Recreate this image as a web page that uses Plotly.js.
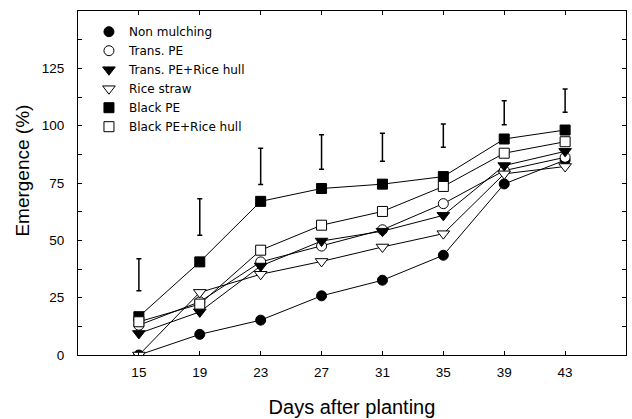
<!DOCTYPE html>
<html>
<head>
<meta charset="utf-8">
<script src="https://cdn.plot.ly/plotly-3.0.1.min.js"></script>
<style>html,body{margin:0;padding:0;background:#fff;}#chart{width:632px;height:419px;}</style>
</head>
<body>
<div id="chart"></div>
<script>
// ---- data ----
var days = [15, 19, 23, 27, 31, 35, 39, 43];
var nonMulching   = [0, 9.0, 15.2, 25.8, 32.6, 43.5, 74.6, 85.0];
var transPE       = [13.0, 23.2, 40.6, 47.5, 54.6, 66.0, 80.4, 86.2];
var transPERice   = [9.4, 18.8, 38.8, 49.7, 54.0, 60.9, 82.6, 88.8];
var riceStraw     = [0, 27.3, 35.2, 40.8, 47.1, 52.9, 79.0, 82.2];
var blackPE       = [16.7, 40.6, 67.0, 72.6, 74.5, 77.8, 94.2, 98.1];
var blackPERice   = [14.5, 22.2, 45.7, 56.6, 62.6, 73.5, 88.0, 93.0];
var barLow  = [28.0, 52.2, 74.3, 81.0, 84.5, 90.6, 100.4, 105.8];
var barHigh = [42.0, 68.1, 90.1, 96.0, 96.7, 100.7, 110.9, 116.0];
var seriesNames = ["Non mulching", "Trans. PE", "Trans. PE+Rice hull", "Rice straw", "Black PE", "Black PE+Rice hull"];
var yTickVals = [0, 25, 50, 75, 100, 125];

var seriesData = [nonMulching, transPE, transPERice, riceStraw, blackPE, blackPERice];
var symbols = ["circle", "circle", "triangle-down", "triangle-down", "square", "square"];
var fills = ["#000", "#fff", "#000", "#fff", "#000", "#fff"];
var sizes = [10, 10, 11, 11, 10, 10];

var traces = [];
// lines first (under markers)
seriesData.forEach(function (vals, i) {
  traces.push({
    x: days, y: vals, type: "scatter", mode: "lines",
    line: {color: "#000", width: 1}, showlegend: false, hoverinfo: "skip"
  });
});
// error bars (LSD bars)
var barMid = barLow.map(function (v, i) { return (v + barHigh[i]) / 2; });
var barHalf = barLow.map(function (v, i) { return (barHigh[i] - v) / 2; });
traces.push({
  x: days, y: barMid, type: "scatter", mode: "markers",
  marker: {size: 1, color: "rgba(0,0,0,0)"},
  error_y: {type: "data", array: barHalf, visible: true, color: "#000", thickness: 1.5, width: 2.5},
  showlegend: false, hoverinfo: "skip"
});
// markers with legend
seriesData.forEach(function (vals, i) {
  traces.push({
    x: days, y: vals, type: "scatter", mode: "markers", name: seriesNames[i],
    marker: {symbol: symbols[i], size: sizes[i], color: fills[i], line: {color: "#000", width: 1}}
  });
});

var layout = {
  width: 632, height: 419,
  margin: {l: 78, r: 6, t: 11, b: 64},
  paper_bgcolor: "#fff", plot_bgcolor: "#fff",
  font: {family: "Liberation Sans, Arial, sans-serif", color: "#000", size: 13},
  showlegend: true,
  legend: {
    x: 0.02, y: 0.982, xanchor: "left", yanchor: "top",
    bgcolor: "rgba(0,0,0,0)", borderwidth: 0,
    font: {family: "DejaVu Sans, sans-serif", size: 12, color: "#000"}, tracegroupgap: 0
  },
  xaxis: {
    range: [11, 47], tickvals: days, ticks: "inside", ticklen: 4, tickcolor: "#000",
    showline: true, linecolor: "#000", linewidth: 1, mirror: "allticks",
    showgrid: false, zeroline: false, ticklabelstandoff: 5,
    tickfont: {size: 13.5},
    title: {text: "Days after planting", font: {size: 20}, standoff: 20}
  },
  yaxis: {
    range: [0, 150], tickvals: yTickVals, ticks: "inside", ticklen: 4, tickcolor: "#000",
    showline: true, linecolor: "#000", linewidth: 1, mirror: "allticks",
    showgrid: false, zeroline: false, ticklabelstandoff: 10,
    tickfont: {size: 13.5},
    minor: {dtick: 12.5, tick0: 0, ticks: "inside", ticklen: 4, tickcolor: "#000", showgrid: false}
  },
  annotations: [{
    text: "Emergence (%)", xref: "paper", yref: "paper",
    x: -0.101, y: 0.535, xanchor: "center", yanchor: "middle",
    textangle: -90, showarrow: false, font: {size: 19, color: "#000"}
  }]
};

Plotly.newPlot("chart", traces, layout, {displayModeBar: false, staticPlot: true});
</script>
</body>
</html>
